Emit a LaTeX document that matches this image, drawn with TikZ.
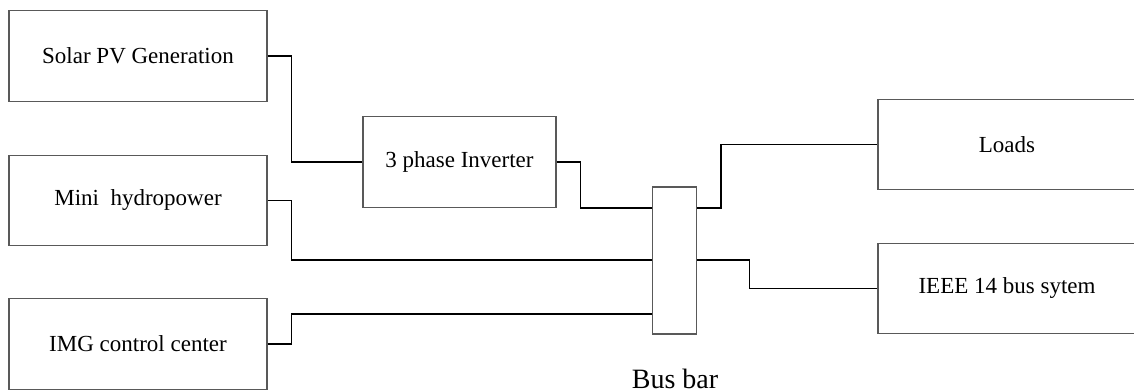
\documentclass[tikz,border=0pt]{standalone}
\usepackage{fontspec}
\setmainfont{Liberation Serif}
\begin{document}
\begin{tikzpicture}[x=0.75pt,y=-0.75pt,
  blockbox/.style={draw=black!65,line width=0.9pt,rectangle,inner sep=0pt,
    minimum width=193.5pt,minimum height=68pt,
    font=\fontsize{17.25}{20}\selectfont},
  wire/.style={draw=black,line width=1.3pt,line join=miter}]
\useasboundingbox (0,0) rectangle (1134,392);

% source blocks on the left
\node[blockbox] (solar) at (138,56) {Solar PV Generation};
\node[blockbox] (mini)  at (138,200.5) {Mini\ \ hydropower};
\node[blockbox] (img)   at (138,344) {IMG control center};

% inverter
\node[blockbox,minimum width=144.75pt] (inv) at (459.5,162) {3 phase Inverter};

% bus bar
\node[draw=black!65,line width=0.9pt,rectangle,inner sep=0pt,
      minimum width=33pt,minimum height=110.25pt] (bus) at (674.7,260.5) {};
\node[font=\fontsize{21}{24}\selectfont,anchor=base] (buslabel) at (675,388) {Bus bar};

% load side blocks
\node[blockbox] (loads) at (1007,144.5) {Loads};
\node[blockbox] (ieee)  at (1007,288.5) {IEEE 14 bus sytem};

% tap heights on the bus bar
\coordinate (t1) at (0,207.7);
\coordinate (t2) at (0,260.3);
\coordinate (t3) at (0,314);

% connections
\draw[wire] (solar.east) -- ++(24,0) |- (inv.west);
\draw[wire] (inv.east) -- ++(24,0) |- (bus.west |- t1);
\draw[wire] (mini.east) -- ++(24,0) |- (bus.west |- t2);
\draw[wire] (img.east) -- ++(24,0) |- (bus.west |- t3);
\draw[wire] (bus.east |- t1) -- ++(24,0) |- (loads.west);
\draw[wire] (bus.east |- t2) -- ++(52.3,0) |- (ieee.west);
\end{tikzpicture}
\end{document}
